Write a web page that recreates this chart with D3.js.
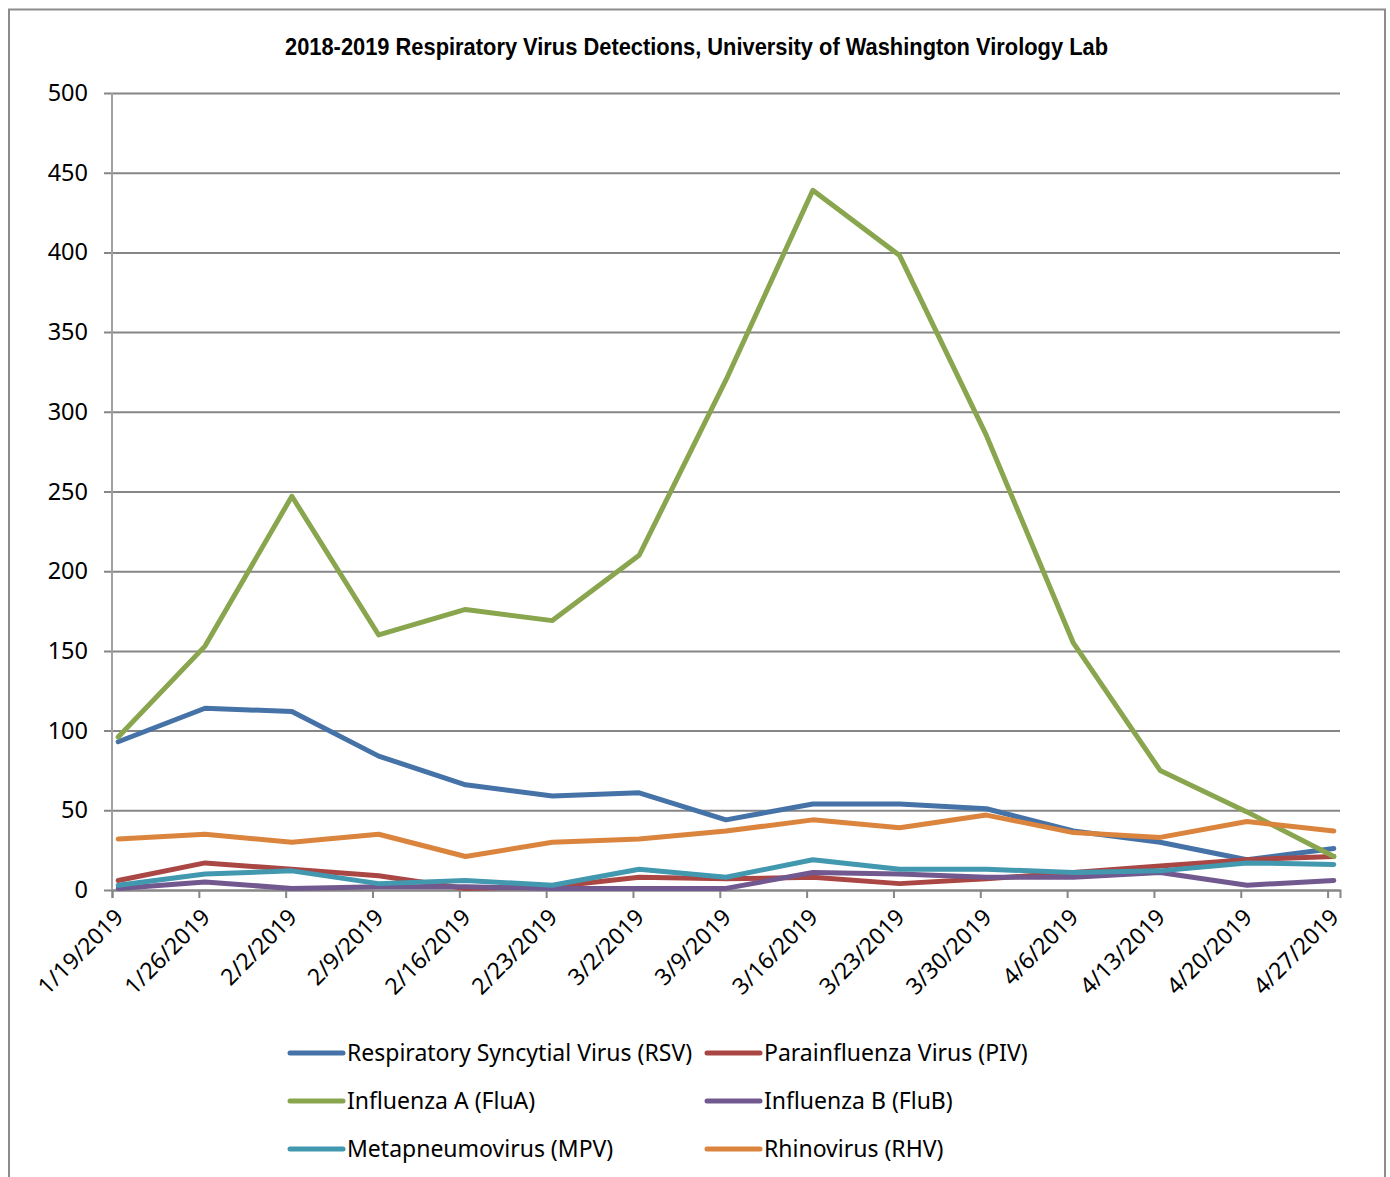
<!DOCTYPE html>
<meta charset="utf-8">
<script src="https://d3js.org/d3.v7.min.js"></script>
<style>
  body { margin: 0; background: #fff; }
  text { font-family: "Noto Sans", sans-serif; fill: #000; }
  .title { font-family: "Liberation Sans Narrow", "Arial Narrow", "Liberation Sans", sans-serif; font-stretch: condensed; font-weight: bold; }
</style>
<body>
<svg width="1390" height="1177"></svg>
<script>
  // week labels (saturday of each week)
  var weeks = ['1/19/2019', '1/26/2019', '2/2/2019', '2/9/2019', '2/16/2019', '2/23/2019', '3/2/2019',
               '3/9/2019', '3/16/2019', '3/23/2019', '3/30/2019', '4/6/2019', '4/13/2019', '4/20/2019', '4/27/2019'];

  var rsv  = [93, 114, 112, 84, 66, 59, 61, 44, 54, 54, 51, 37, 30, 19, 26];
  var piv  = [6, 17, 13, 9, 1, 2, 8, 7, 8, 4, 7, 11, 15, 19, 21];
  var fluA = [96, 153, 247, 160, 176, 169, 210, 320, 439, 398, 285, 155, 75, 49, 21];
  var fluB = [1, 5, 1, 2, 2, 1, 1, 1, 11, 10, 8, 8, 11, 3, 6];
  var mpv  = [3, 10, 12, 4, 6, 3, 13, 8, 19, 13, 13, 11, 12, 17, 16];
  var rhv  = [32, 35, 30, 35, 21, 30, 32, 37, 44, 39, 47, 36, 33, 43, 37];

  var yTicks = [0, 50, 100, 150, 200, 250, 300, 350, 400, 450, 500];

  var series = [
    {name: 'Respiratory Syncytial Virus (RSV)', values: rsv,  color: '#4572A7'},
    {name: 'Parainfluenza Virus (PIV)',         values: piv,  color: '#AA4643'},
    {name: 'Influenza A (FluA)',                values: fluA, color: '#89A54E'},
    {name: 'Influenza B (FluB)',                values: fluB, color: '#71588F'},
    {name: 'Metapneumovirus (MPV)',             values: mpv,  color: '#4198AF'},
    {name: 'Rhinovirus (RHV)',                  values: rhv,  color: '#DB843D'}
  ];

  var svg = d3.select('svg');
  var parse = d3.utcParse('%m/%d/%Y');
  var dates = weeks.map(parse);
  var day = 864e5;

  // date axis: each day is a slot, points sit in the middle of their day
  var x = d3.scaleUtc()
    .domain([dates[0], new Date(+dates[dates.length - 1] + day)])
    .range([112, 1340]);
  var y = d3.scaleLinear().domain([0, 500]).range([890, 93]);

  // outer frame
  svg.append('rect')
    .attr('x', 9).attr('y', 9.5)
    .attr('width', 1376).attr('height', 1200)
    .attr('fill', 'none').attr('stroke', '#8c8c8c').attr('stroke-width', 2);

  // squeeze the title a bit, the original uses a narrow face
  svg.append('text')
    .attr('class', 'title')
    .attr('x', 285).attr('y', 55)
    .attr('textLength', 823)
    .attr('lengthAdjust', 'spacingAndGlyphs')
    .style('font-size', '24.5px')
    .text('2018-2019 Respiratory Virus Detections, University of Washington Virology Lab');

  /* ----------- grid + y axis ----------- */

  var yAxis = svg.append('g')
    .attr('transform', 'translate(112,0)')
    .call(d3.axisLeft(y).tickValues(yTicks).tickSize(8).tickPadding(16));
  yAxis.select('.domain').remove();
  yAxis.selectAll('line').attr('stroke', '#868686').attr('stroke-width', 2)
    .attr('x2', 1340 - 112).attr('x1', -8);
  yAxis.selectAll('text').style('font-size', '23.5px').style('font-family', '"Noto Sans", sans-serif');

  svg.append('line')
    .attr('x1', 112).attr('x2', 112)
    .attr('y1', 93).attr('y2', 890)
    .attr('stroke', '#a0a0a0').attr('stroke-width', 2);

  /* ----------- x axis ----------- */

  var xAxis = svg.append('g')
    .attr('transform', 'translate(0,890)')
    .call(d3.axisBottom(x).tickValues(dates).tickSize(8).tickFormat(''));
  xAxis.select('.domain').attr('stroke', '#868686').attr('stroke-width', 2);
  xAxis.selectAll('line').attr('stroke', '#868686').attr('stroke-width', 2);

  svg.append('g').selectAll('text')
    .data(dates)
    .enter().append('text')
    .attr('transform', function(d){ return 'translate(' + (x(d) + 7) + ',913) rotate(-45)'; })
    .attr('text-anchor', 'end')
    .attr('dy', '0.35em')
    .style('font-size', '23px')
    .text(function(d, i){ return weeks[i]; });

  /* ----------- lines ----------- */

  var line = d3.line()
    .x(function(d, i){ return x(new Date(+dates[i] + day / 2)); })
    .y(function(d){ return y(d); });

  svg.append('g').selectAll('path')
    .data(series)
    .enter().append('path')
    .attr('fill', 'none')
    .attr('stroke', function(d){ return d.color; })
    .attr('stroke-width', 5)
    .attr('stroke-linejoin', 'round')
    .attr('stroke-linecap', 'round')
    .attr('d', function(d){ return line(d.values); });

  /* ----------- legend ----------- */

  var legend = svg.append('g').selectAll('g')
    .data(series)
    .enter().append('g')
    .attr('transform', function(d, i){
      return 'translate(' + (i % 2 ? 705 : 288) + ',' + (1053 + Math.floor(i / 2) * 48) + ')';
    });

  legend.append('line')
    .attr('x1', 2).attr('x2', 55)
    .attr('stroke', function(d){ return d.color; })
    .attr('stroke-width', 5)
    .attr('stroke-linecap', 'round');

  legend.append('text')
    .attr('x', 59)
    .attr('dy', '0.35em')
    .style('font-size', '23px')
    .text(function(d){ return d.name; });
</script>
</body>
